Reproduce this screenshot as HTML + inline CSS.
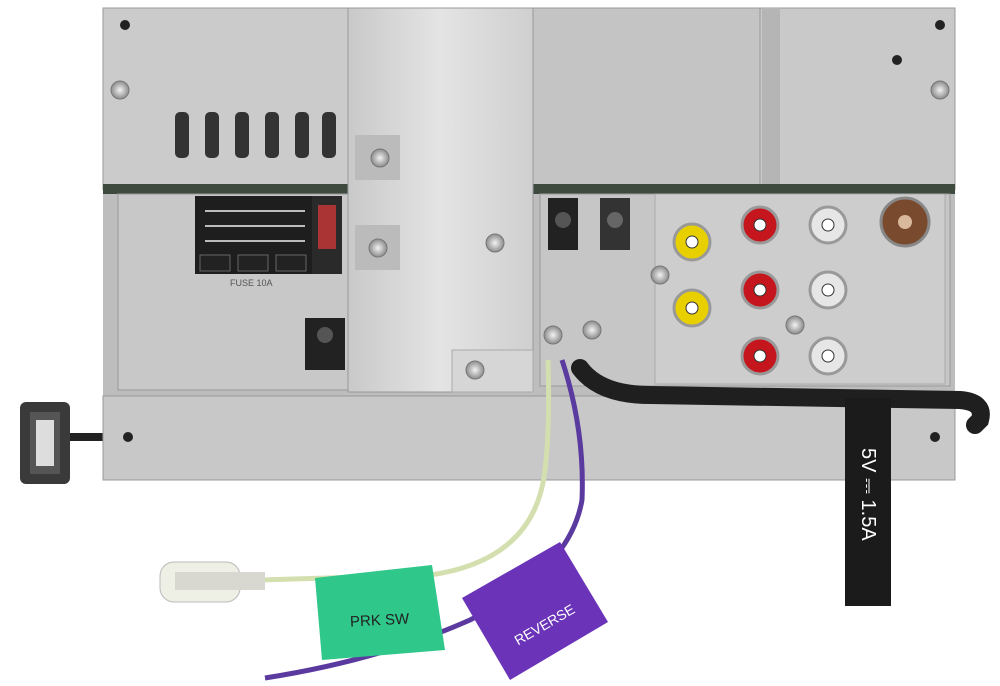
<!DOCTYPE html>
<html><head><meta charset="utf-8"><style>
html,body{margin:0;padding:0;background:#fff;width:1000px;height:686px;overflow:hidden}
svg{display:block}
text{font-family:"Liberation Sans",sans-serif}
</style></head><body>
<svg width="1000" height="686" viewBox="0 0 1000 686" xmlns="http://www.w3.org/2000/svg">
<defs>
<linearGradient id="al" x1="0" x2="1"><stop offset="0" stop-color="#c9c9c9"/><stop offset=".5" stop-color="#e4e4e4"/><stop offset="1" stop-color="#cfcfcf"/></linearGradient>
<radialGradient id="scr"><stop offset="0" stop-color="#f2f2f2"/><stop offset="1" stop-color="#8c8c8c"/></radialGradient>
</defs>
<rect x="60" y="433" width="50" height="8" fill="#222"/>
<rect x="20" y="402" width="50" height="82" rx="6" fill="#3a3a3a"/>
<rect x="30" y="412" width="30" height="62" fill="#555"/>
<rect x="36" y="420" width="18" height="46" fill="#ddd"/>
<rect x="103" y="8" width="852" height="388" fill="#bdbdbd"/>
<rect x="103" y="8" width="245" height="182" fill="#cbcbcb" stroke="#999"/>
<rect x="533" y="8" width="422" height="182" fill="#c4c4c4" stroke="#999"/>
<rect x="760" y="8" width="195" height="182" fill="#c9c9c9" stroke="#999"/>
<rect x="762" y="8" width="18" height="182" fill="#b5b5b5"/>
<rect x="103" y="184" width="852" height="10" fill="#3f4a3f"/>
<g fill="#333"><rect x="175" y="112" width="14" height="46" rx="5"/><rect x="205" y="112" width="14" height="46" rx="5"/><rect x="235" y="112" width="14" height="46" rx="5"/><rect x="265" y="112" width="14" height="46" rx="5"/><rect x="295" y="112" width="14" height="46" rx="5"/><rect x="322" y="112" width="14" height="46" rx="5"/></g>
<rect x="118" y="194" width="230" height="196" fill="#c8c8c8" stroke="#999"/>
<rect x="540" y="194" width="410" height="192" fill="#c6c6c6" stroke="#999"/>
<rect x="655" y="194" width="290" height="190" fill="#cdcdcd" stroke="#aaa"/>
<rect x="195" y="196" width="118" height="78" fill="#1e1e1e"/>
<g fill="#bbb">
<rect x="205" y="210" width="100" height="2"/><rect x="205" y="225" width="100" height="2"/><rect x="205" y="240" width="100" height="2"/>
</g>
<g fill="#222" stroke="#666"><rect x="200" y="255" width="30" height="16"/><rect x="238" y="255" width="30" height="16"/><rect x="276" y="255" width="30" height="16"/></g>
<rect x="312" y="196" width="30" height="78" fill="#2a2a2a"/>
<rect x="318" y="205" width="18" height="44" fill="#a33"/>
<text x="230" y="286" font-size="9" fill="#555">FUSE 10A</text>
<rect x="305" y="318" width="40" height="52" fill="#222"/>
<circle cx="325" cy="335" r="8" fill="#555"/>
<rect x="348" y="8" width="185" height="384" fill="url(#al)" stroke="#999"/>
<rect x="452" y="350" width="81" height="42" fill="#d6d6d6" stroke="#aaa"/>
<rect x="355" y="135" width="45" height="45" fill="#bbb"/>
<rect x="355" y="225" width="45" height="45" fill="#bbb"/>
<rect x="103" y="396" width="852" height="84" fill="#c8c8c8" stroke="#999"/>
<g fill="url(#scr)" stroke="#777"><circle cx="120" cy="90" r="9"/><circle cx="940" cy="90" r="9"/><circle cx="380" cy="158" r="9"/><circle cx="378" cy="248" r="9"/><circle cx="495" cy="243" r="9"/><circle cx="475" cy="370" r="9"/><circle cx="660" cy="275" r="9"/><circle cx="795" cy="325" r="9"/><circle cx="553" cy="335" r="9"/><circle cx="592" cy="330" r="9"/></g>
<g fill="#222"><circle cx="125" cy="25" r="5"/><circle cx="940" cy="25" r="5"/><circle cx="128" cy="437" r="5"/><circle cx="935" cy="437" r="5"/><circle cx="897" cy="60" r="5"/></g>
<rect x="548" y="198" width="30" height="52" fill="#222"/><circle cx="563" cy="220" r="8" fill="#555"/>
<rect x="600" y="198" width="30" height="52" fill="#333"/><circle cx="615" cy="220" r="8" fill="#666"/>
<g stroke="#999" stroke-width="3">
<circle cx="692" cy="242" r="18" fill="#e8d000"/><circle cx="692" cy="308" r="18" fill="#e8d000"/>
<circle cx="760" cy="225" r="18" fill="#c4161c"/><circle cx="760" cy="290" r="18" fill="#c4161c"/><circle cx="760" cy="356" r="18" fill="#c4161c"/>
<circle cx="828" cy="225" r="18" fill="#e6e6e6"/><circle cx="828" cy="290" r="18" fill="#e6e6e6"/><circle cx="828" cy="356" r="18" fill="#e6e6e6"/>
</g>
<g fill="#fff" stroke="#333"><circle cx="692" cy="242" r="6"/><circle cx="692" cy="308" r="6"/><circle cx="760" cy="225" r="6"/><circle cx="760" cy="290" r="6"/><circle cx="760" cy="356" r="6"/><circle cx="828" cy="225" r="6"/><circle cx="828" cy="290" r="6"/><circle cx="828" cy="356" r="6"/></g>
<circle cx="905" cy="222" r="24" fill="#7a4a2e" stroke="#888" stroke-width="3"/><circle cx="905" cy="222" r="7" fill="#d9b99b"/>
<path d="M580 368 Q600 395 650 395 L960 400 Q985 402 980 420 L975 425" stroke="#1f1f1f" stroke-width="18" fill="none" stroke-linecap="round"/>
<rect x="845" y="398" width="46" height="208" fill="#1b1b1b"/>
<text transform="translate(862,448) rotate(90)" font-size="20" fill="#fff">5V ⎓ 1.5A</text>
<path d="M548 360 Q550 430 545 470 Q535 560 430 575 L260 580" stroke="#d4dfb0" stroke-width="5" fill="none"/>
<path d="M562 360 Q585 430 582 500 Q570 570 470 620 Q380 660 265 678" stroke="#5b3aa0" stroke-width="5" fill="none"/>
<rect x="160" y="562" width="80" height="40" rx="14" fill="#eef0e6" stroke="#bbb"/>
<rect x="175" y="572" width="90" height="18" fill="#d8d8d0"/>
<polygon points="315,578 432,565 445,650 322,660" fill="#2fc78a"/>
<text x="350" y="625" font-size="15" fill="#222" transform="rotate(-3 380 620)">PRK SW</text>
<polygon points="462,598 560,542 608,622 510,680" fill="#6a33b8"/>
<text x="505" y="633" font-size="14" fill="#fff" transform="rotate(-30 535 615)">REVERSE</text>
</svg>
</body></html>
